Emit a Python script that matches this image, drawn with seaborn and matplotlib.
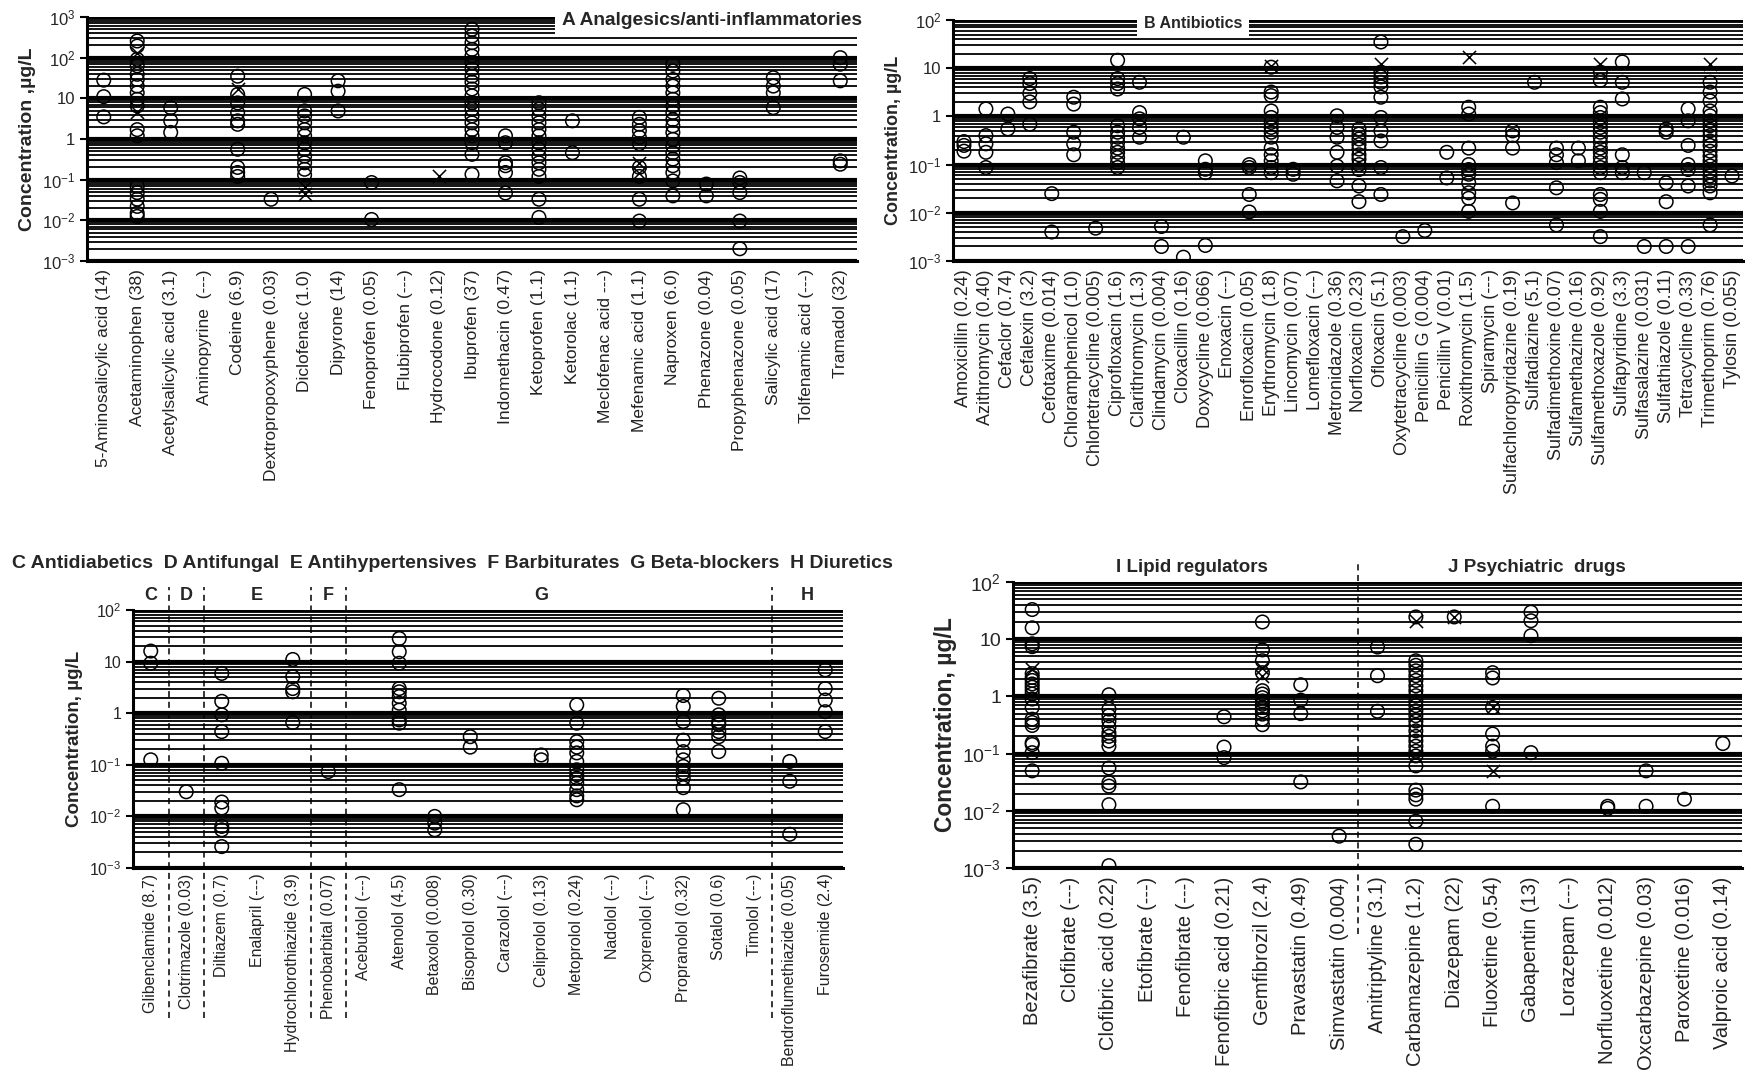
import numpy as np
import pandas as pd
import matplotlib
matplotlib.use("Agg")
import matplotlib.pyplot as plt
import seaborn as sns
from matplotlib.ticker import FixedLocator, FixedFormatter, NullFormatter, LogLocator

# =========================
# DATA
# =========================
a_labels = ["5-Aminosalicylic acid (14)", "Acetaminophen (38)", "Acetylsalicylic acid (3.1)",
            "Aminopyrine  (---)", "Codeine (6.9)", "Dextropropoxyphene (0.03)", "Diclofenac (1.0)",
            "Dipyrone (14)", "Fenoprofen (0.05)", "Flubiprofen (---)", "Hydrocodone (0.12)",
            "Ibuprofen (37)", "Indomethacin (0.47)", "Ketoprofen (1.1)", "Ketorolac (1.1)",
            "Meclofenac acid ---)", "Mefenamic acid (1.1)", "Naproxen (6.0)", "Phenazone (0.04)",
            "Propyphenazone (0.05)", "Salicylic acid (17)", "Tolfenamic acid (---)", "Tramadol (32)"]
a_circles = [
    [28, 11, 3.5],
    [257, 193, 91, 63, 39, 29, 20, 13.7, 9.5, 6.5, 1.7, 1.2, 0.069, 0.048, 0.033, 0.022, 0.015, 0.0125],
    [5.9, 2.8, 1.45],
    [],
    [35, 12.5, 7.7, 4.4, 2.8, 2.3, 0.56, 0.2, 0.15, 0.12],
    [0.033],
    [12.5, 4.9, 3.7, 2.5, 1.7, 1.2, 0.81, 0.56, 0.38, 0.26, 0.18, 0.13],
    [27, 15, 4.9],
    [0.085, 0.0105],
    [],
    [],
    [497, 340, 233, 160, 110, 75, 52, 35, 25, 17, 11.5, 7.8, 5.4, 3.7, 2.5, 1.7, 1.2, 0.81, 0.42, 0.135],
    [1.2, 0.81, 0.26, 0.22, 0.15, 0.047],
    [7.8, 5.4, 3.7, 2.5, 1.7, 1.2, 0.81, 0.56, 0.38, 0.26, 0.18, 0.12, 0.033, 0.0118],
    [2.8, 0.46],
    [],
    [3.4, 2.3, 1.6, 1.1, 0.77, 0.2, 0.12, 0.033, 0.0096],
    [69, 47, 29, 20, 13.7, 9.5, 6.5, 4.5, 3.0, 2.1, 1.45, 0.98, 0.67, 0.46, 0.32, 0.22, 0.15, 0.093, 0.04],
    [0.078, 0.04],
    [0.11, 0.085, 0.048, 0.0096, 0.002],
    [32, 20, 13.7, 5.9],
    [],
    [100, 69, 27, 0.29, 0.24],
]
a_crosses = [[], [133, 4.5], [], [], [16.6], [], [0.065, 0.045], [], [], [], [0.12], [], [], [], [],
             [], [0.26, 0.15], [], [], [], [], [], []]

b_labels = ["Amoxicillin (0.24)", "Azithromycin (0.40)", "Cefaclor (0.74)", "Cefalexin (3.2)",
            "Cefotaxime (0.014)", "Chloramphenicol (1.0)", "Chlortetracycline (0.005)",
            "Ciprofloxacin (1.6)", "Clarithromycin (1.3)", "Clindamycin (0.004)", "Cloxacillin (0.16)",
            "Doxycycline (0.066)", "Enoxacin (---)", "Enrofloxacin (0.05)", "Erythromycin (1.8)",
            "Lincomycin (0.07)", "Lomefloxacin (---)", "Metronidazole (0.36)", "Norfloxacin (0.23)",
            "Ofloxacin (5.1)", "Oxytetracycline (0.003)", "Penicillin G (0.004)", "Penicillin V (0.01)",
            "Roxithromycin (1.5)", "Spiramycin (---)", "Sulfachloropyridazine (0.19)", "Sulfadiazine (5.1)",
            "Sulfadimethoxine (0.07)", "Sulfamethazine (0.16)", "Sulfamethoxazole (0.92)",
            "Sulfapyridine (3.3)", "Sulfasalazine (0.031)", "Sulfathiazole (0.11)", "Tetracycline (0.33)",
            "Trimethoprim (0.76)", "Tylosin (0.055)"]
b_circles = [
    [0.3, 0.25, 0.19],
    [1.43, 0.4, 0.27, 0.18, 0.087],
    [1.12, 0.55],
    [6.1, 4.8, 3.0, 2.0, 0.69],
    [0.025, 0.004],
    [2.5, 1.8, 0.47, 0.27, 0.16],
    [0.0048],
    [14.6, 6.1, 4.8, 3.7, 0.64, 0.47, 0.37, 0.29, 0.22, 0.18, 0.14, 0.11, 0.087],
    [5.1, 1.2, 0.89, 0.59, 0.37],
    [0.0052, 0.002],
    [0.37, 0.0012],
    [0.12, 0.08, 0.068, 0.0021],
    [],
    [0.1, 0.087, 0.024, 0.0104],
    [10.5, 3.2, 2.7, 1.3, 0.95, 0.75, 0.59, 0.47, 0.37, 0.22, 0.16, 0.12, 0.087, 0.068],
    [0.08, 0.063],
    [],
    [1.03, 0.59, 0.37, 0.18, 0.093, 0.046],
    [0.55, 0.43, 0.34, 0.26, 0.21, 0.16, 0.13, 0.1, 0.079, 0.036, 0.017],
    [35, 8.3, 6.6, 5.1, 4.1, 2.5, 0.95, 0.5, 0.31, 0.087, 0.024],
    [0.0032],
    [0.0043],
    [0.18, 0.053],
    [1.55, 1.12, 0.22, 0.1, 0.079, 0.063, 0.042, 0.026, 0.02, 0.0107],
    [],
    [0.5, 0.4, 0.22, 0.016],
    [5.1],
    [0.22, 0.16, 0.11, 0.033, 0.0056],
    [0.22, 0.12],
    [8.3, 5.6, 1.55, 1.2, 0.95, 0.75, 0.59, 0.47, 0.37, 0.29, 0.22, 0.18, 0.14, 0.11, 0.087, 0.068,
     0.024, 0.019, 0.0107, 0.0032],
    [13.5, 5.1, 2.3, 0.16, 0.087, 0.068],
    [0.068, 0.002],
    [0.55, 0.47, 0.042, 0.017, 0.002],
    [1.43, 0.81, 0.25, 0.1, 0.079, 0.036, 0.002],
    [5.1, 3.2, 2.1, 1.3, 1.03, 0.81, 0.64, 0.5, 0.4, 0.31, 0.25, 0.19, 0.15, 0.12, 0.094, 0.073,
     0.058, 0.046, 0.036, 0.026, 0.0056],
    [0.058],
]
b_crosses = [[] for _ in b_labels]
b_crosses[14] = [11]
b_crosses[19] = [12.4]
b_crosses[23] = [17]
b_crosses[29] = [12.4]
b_crosses[34] = [12.4]

c_labels = ["Glibenclamide (8.7)", "Clotrimazole (0.03)", "Diltiazem (0.7)", "Enalapril (---)",
            "Hydrochlorothiazide (3.9)", "Phenobarbital (0.07)", "Acebutolol (---)", "Atenolol (4.5)",
            "Betaxolol (0.008)", "Bisoprolol (0.30)", "Carazolol (---)", "Celiprolol (0.13)",
            "Metoprolol (0.24)", "Nadolol (---)", "Oxprenolol (---)", "Propranolol (0.32)",
            "Sotalol (0.6)", "Timolol (---)", "Bendroflumethiazide (0.05)", "Furosemide (2.4)"]
c_circles = [
    [16, 9.3, 0.125],
    [0.03],
    [5.9, 1.7, 0.93, 0.44, 0.107, 0.019, 0.0145, 0.0064, 0.0055, 0.0026],
    [],
    [11, 5.1, 3.0, 2.6, 0.66],
    [0.074],
    [],
    [28, 15.5, 9.3, 3.0, 2.6, 2.1, 1.56, 1.15, 0.74, 0.64, 0.033],
    [0.01, 0.0074, 0.0055],
    [0.35, 0.22],
    [],
    [0.155, 0.125],
    [1.45, 0.64, 0.28, 0.22, 0.17, 0.116, 0.08, 0.064, 0.055, 0.044, 0.033, 0.025, 0.021],
    [],
    [],
    [2.2, 1.35, 0.69, 0.3, 0.18, 0.125, 0.093, 0.07, 0.055, 0.036, 0.0135],
    [1.95, 0.93, 0.69, 0.6, 0.44, 0.35, 0.18],
    [],
    [0.116, 0.048, 0.0045],
    [6.9, 3.0, 1.8, 1.07, 0.44],
]
c_groups = ["C", "D", "E", "F", "G", "H"]
c_group_pos = [0, 1, 3, 5, 11, 18.5]
c_dividers = [0.5, 1.5, 4.5, 5.5, 17.5]

i_labels = ["Bezafibrate (3.5)", "Clofibrate (---)", "Clofibric acid (0.22)", "Etofibrate (---)",
            "Fenofibrate (---)", "Fenofibric acid (0.21)", "Gemfibrozil (2.4)", "Pravastatin (0.49)",
            "Simvastatin (0.004)", "Amitriptyline (3.1)", "Carbamazepine (1.2)", "Diazepam (22)",
            "Fluoxetine (0.54)", "Gabapentin (13)", "Lorazepam (---)", "Norfluoxetine (0.012)",
            "Oxcarbazepine (0.03)", "Paroxetine (0.016)", "Valproic acid (0.14)"]
i_circles = [
    [33, 15.8, 8.3, 7.4, 2.5, 2.15, 1.9, 1.65, 1.45, 1.26, 1.1, 0.9, 0.64, 0.4, 0.35, 0.31, 0.155,
     0.144, 0.104, 0.05],
    [],
    [1.07, 0.6, 0.46, 0.37, 0.29, 0.23, 0.2, 0.166, 0.135, 0.056, 0.031, 0.027, 0.0128, 0.0011],
    [],
    [],
    [0.44, 0.13, 0.085],
    [20, 6.5, 4.2, 2.6, 1.26, 1.1, 0.95, 0.83, 0.73, 0.64, 0.56, 0.49, 0.4, 0.32],
    [1.6, 0.86, 0.5, 0.032],
    [0.0036],
    [7.3, 2.3, 0.55],
    [24.5, 4.2, 3.5, 2.8, 2.3, 1.9, 1.53, 1.26, 1.03, 0.83, 0.69, 0.56, 0.46, 0.37, 0.31, 0.25, 0.2,
     0.166, 0.135, 0.11, 0.091, 0.061, 0.023, 0.019, 0.016, 0.0066, 0.0026],
    [24.5],
    [2.6, 2.1, 0.64, 0.22, 0.135, 0.11, 0.012],
    [29.7, 21, 11.5, 0.104],
    [],
    [0.012, 0.011],
    [0.05, 0.012],
    [0.016],
    [0.15],
]
i_crosses = [[] for _ in i_labels]
i_crosses[0] = [3.0]
i_crosses[6] = [3.2, 2.3]
i_crosses[10] = [21]
i_crosses[11] = [24]
i_crosses[12] = [0.64, 0.05]

# =========================
# STYLE
# =========================
sns.set_theme(style="white")
plt.rcParams["font.family"] = ["Liberation Sans", "DejaVu Sans"]
plt.rcParams["mathtext.fontset"] = "custom"
plt.rcParams["mathtext.rm"] = "Liberation Sans"
plt.rcParams["mathtext.it"] = "Liberation Sans:italic"
plt.rcParams["mathtext.bf"] = "Liberation Sans:bold"

W, H = 1745, 1076
fig = plt.figure(figsize=(W / 100, H / 100), dpi=100)


def to_long(circles, crosses):
    rows = []
    for i, vals in enumerate(circles):
        rows += [(i, v, "o") for v in vals]
    for i, vals in enumerate(crosses):
        rows += [(i, v, "x") for v in vals]
    return pd.DataFrame(rows, columns=["pos", "conc", "kind"])


def make_panel(rect_px, labels, circles, crosses, ymin, ymax, ylabel, tick_fs, lab_fs, ylab_fs,
               boundary_ticks=True, lab_pad=6):
    l, r, t, b = rect_px
    ax = fig.add_axes([l / W, 1 - b / H, (r - l) / W, (b - t) / H])
    df = to_long(circles, crosses)
    sns.scatterplot(data=df[df.kind == "o"], x="pos", y="conc", marker="o", s=95,
                    facecolors="none", edgecolor="black", linewidth=1.1, ax=ax, zorder=5,
                    legend=False)
    if (df.kind == "x").any():
        sns.scatterplot(data=df[df.kind == "x"], x="pos", y="conc", marker="x", s=90,
                        color="black", linewidth=1.1, ax=ax, zorder=5, legend=False)
    ax.set_yscale("log")
    ax.set_ylim(ymin, ymax)
    ax.set_xlim(-0.5, len(labels) - 0.5)

    decades = np.arange(int(np.log10(ymin)), int(np.log10(ymax)) + 1)
    names = []
    for d in decades:
        if d == 0:
            names.append("1")
        elif d == 1:
            names.append("10")
        else:
            names.append("10$^{%d}$" % d)
    ax.yaxis.set_major_locator(FixedLocator(10.0 ** decades))
    ax.yaxis.set_major_formatter(FixedFormatter(names))
    ax.yaxis.set_minor_locator(LogLocator(base=10, subs=np.arange(2, 10)))
    ax.yaxis.set_minor_formatter(NullFormatter())
    ax.grid(True, which="major", axis="y", color="black", lw=3.0, zorder=1)
    ax.grid(True, which="minor", axis="y", color="black", lw=1.3, zorder=1)
    ax.set_axisbelow(True)

    ax.set_xticks(range(len(labels)))
    ax.set_xticklabels(labels, rotation=90, fontsize=lab_fs, color="#222222")
    ax.tick_params(axis="x", which="major", length=0, pad=lab_pad)
    if boundary_ticks:
        ax.set_xticks(np.arange(-0.5, len(labels), 1.0), minor=True)
        ax.tick_params(axis="x", which="minor", length=6, width=1.5, direction="inout", color="black")
    ax.tick_params(axis="y", which="major", labelsize=tick_fs, length=5, width=1.5, color="black",
                   left=True, direction="out")
    ax.tick_params(axis="y", which="minor", length=0)
    for s in ["top", "right"]:
        ax.spines[s].set_visible(False)
    for s in ["left", "bottom"]:
        ax.spines[s].set_color("black")
        ax.spines[s].set_linewidth(2.2)
    ax.set_xlabel("")
    ax.set_ylabel(ylabel, fontsize=ylab_fs, fontweight="bold", labelpad=4)
    return ax


# Panel A
axA = make_panel((87, 857, 17, 261), a_labels, a_circles, a_crosses, 1e-3, 1e3,
                 "Concentration ,\u00b5g/L", 12, 12.5, 14, boundary_ticks=False)
axA.text(1.006, 0.985, "A Analgesics/anti-inflammatories", transform=axA.transAxes, ha="right",
         va="center", fontsize=13.8, fontweight="bold", zorder=10,
         bbox=dict(facecolor="white", edgecolor="none", pad=5))

# Panel B
axB = make_panel((953, 1743, 20, 261), b_labels, b_circles, b_crosses, 1e-3, 1e2,
                 "Concentration, \u00b5g/L", 12, 13, 13)
axB.text(0.304, 0.985, "B Antibiotics", transform=axB.transAxes, ha="center", va="center",
         fontsize=11.5, fontweight="bold", zorder=10,
         bbox=dict(facecolor="white", edgecolor="none", pad=5))

# Panel C-H
axC = make_panel((133, 843, 610, 868), c_labels, c_circles, [[] for _ in c_labels], 1e-3, 1e2,
                 "Concentration, \u00b5g/L", 11.5, 11.5, 13.5, lab_pad=4)
for xd in c_dividers:
    axC.plot([xd, xd], [-0.58, 1.09], transform=axC.get_xaxis_transform(), ls=(0, (4, 3)),
             color="black", lw=1.1, clip_on=False, zorder=6)
for g, xg in zip(c_groups, c_group_pos):
    axC.text(xg, 1.055, g, transform=axC.get_xaxis_transform(), ha="center", va="center",
             fontsize=13, fontweight="bold")
fig.text(12 / W, 1 - 563 / H,
         "C Antidiabetics  D Antifungal  E Antihypertensives  F Barbiturates  G Beta-blockers  H Diuretics",
         ha="left", va="center", fontsize=14, fontweight="bold")

# Panel I-J
axI = make_panel((1013, 1742, 582, 868), i_labels, i_circles, i_crosses, 1e-3, 1e2,
                 "Concentration, \u00b5g/L", 14, 14.5, 16.5)
axI.plot([8.5, 8.5], [-0.23, 1.07], transform=axI.get_xaxis_transform(), ls=(0, (4, 3)),
         color="black", lw=1.1, clip_on=False, zorder=6)
axI.text(4.16, 1.052, "I Lipid regulators", transform=axI.get_xaxis_transform(), ha="center",
         va="center", fontsize=13.5, fontweight="bold")
axI.text(13.15, 1.052, "J Psychiatric  drugs", transform=axI.get_xaxis_transform(), ha="center",
         va="center", fontsize=13.5, fontweight="bold")

fig.savefig("out.png", dpi=100)
plt.close(fig)
